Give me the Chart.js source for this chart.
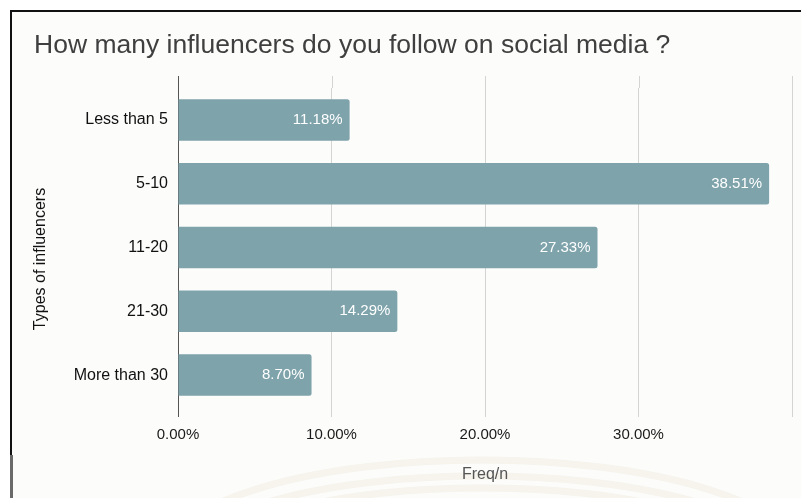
<!DOCTYPE html>
<html>
<head>
<meta charset="utf-8">
<script src="https://cdn.jsdelivr.net/npm/chart.js@4.4.1/dist/chart.umd.min.js"></script>
<style>
  html, body { margin: 0; padding: 0; background: #fff; }
  #wrap { position: relative; width: 801px; height: 498px; overflow: hidden; }
  #frame {
    position: absolute; left: 10px; top: 10px; right: -10px; bottom: -10px;
    border-top: 2.5px solid #111; border-left: 2.5px solid #111;
    background: #fcfcfb;
  }
  #frameLow {
    position: absolute; left: 10px; top: 455px; width: 2.5px; bottom: 0;
    background: #6a6a6a;
  }
  #chart { position: absolute; left: 0; top: 0; }
</style>
</head>
<body>
<div id="wrap">
  <div id="frame"></div>
  <div id="frameLow"></div>
  <canvas id="chart" width="801" height="498"></canvas>
</div>
<script>
const FONT = '"Liberation Sans", Arial, Helvetica, sans-serif';

const groups = ['Less than 5', '5-10', '11-20', '21-30', 'More than 30'];
const shares = [11.18, 38.51, 27.33, 14.29, 8.70];
const xTicks = [0, 10, 20, 30, 40];

const chartTitle = 'How many influencers do you follow on social media ?';
const yTitle = 'Types of influencers';
const xTitle = 'Freq/n';

Chart.defaults.font.family = FONT;

// faint seal in the background, behind everything
const backdrop = {
    id: 'backdrop',
    beforeDraw(chart) {
        const ctx = chart.ctx;
        ctx.save();
        ctx.strokeStyle = 'rgba(228, 218, 192, 0.25)';
        ctx.lineWidth = 7;
        [[320, 100], [296, 84], [270, 72]].forEach(r => {
            ctx.beginPath();
            ctx.ellipse(482, 560, r[0], r[1], 0, 0, Math.PI * 2);
            ctx.stroke();
        });
        ctx.restore();
    }
};

// gridlines run a little above the plot area
const gridTop = {
    id: 'gridTop',
    beforeDatasetsDraw(chart) {
        const {ctx, chartArea, scales} = chart;
        ctx.save();
        ctx.lineWidth = 1;
        xTicks.forEach(v => {
            const x = Math.round(scales.x.getPixelForValue(v)) + 0.5;
            ctx.strokeStyle = v === 0 ? '#555' : '#d4d4d4';
            ctx.beginPath();
            ctx.moveTo(x, chartArea.top - 12);
            ctx.lineTo(x, chartArea.top);
            ctx.stroke();
        });
        ctx.restore();
    }
};

// value labels inside the bar ends, plus the rotated y title
const barLabels = {
    id: 'barLabels',
    afterDatasetsDraw(chart) {
        const ctx = chart.ctx;
        const meta = chart.getDatasetMeta(0);
        ctx.save();
        ctx.font = '15px ' + FONT;
        ctx.fillStyle = '#ffffff';
        ctx.textAlign = 'right';
        ctx.textBaseline = 'middle';
        meta.data.forEach((bar, i) => {
            ctx.fillText(shares[i].toFixed(2) + '%', bar.x - 7, bar.y);
        });

        ctx.translate(40.5, 259);
        ctx.rotate(-Math.PI / 2);
        ctx.font = '16px ' + FONT;
        ctx.fillStyle = '#111';
        ctx.textAlign = 'center';
        ctx.fillText(yTitle, 0, 0);
        ctx.restore();
    }
};

const data = {
    labels: groups,
    datasets: [{
        data: shares,
        backgroundColor: '#7ea3ab',
        borderRadius: 2.5,
        borderSkipped: 'start',
        categoryPercentage: 1,
        barPercentage: 0.65
    }]
};

const config = {
    type: 'bar',
    data: data,
    options: {
        indexAxis: 'y',
        responsive: false,
        animation: false,
        events: [],
        layout: {
            padding: {left: 34, right: 9, top: 0, bottom: 0}
        },
        plugins: {
            legend: {display: false},
            tooltip: {enabled: false},
            title: {
                display: true,
                text: chartTitle,
                align: 'start',
                color: '#3f3f3f',
                font: {size: 26.5, weight: 'normal', family: FONT},
                padding: {top: 30, bottom: 26.2}
            }
        },
        scales: {
            x: {
                min: 0,
                max: 40,
                afterBuildTicks(scale) {
                    scale.ticks = xTicks.map(v => ({value: v}));
                },
                afterFit(scale) { scale.height = 91; },
                grid: {
                    color: ctx => ctx.tick && ctx.tick.value === 0 ? '#555' : '#d4d4d4',
                    lineWidth: 1,
                    drawTicks: true,
                    tickLength: 10
                },
                border: {display: false},
                ticks: {
                    padding: 9,
                    color: '#1a1a1a',
                    font: {size: 15},
                    callback: v => v === 40 ? '' : v.toFixed(2) + '%'
                },
                title: {
                    display: true,
                    text: xTitle,
                    color: '#555',
                    font: {size: 16},
                    padding: {top: 0, bottom: 14}
                }
            },
            y: {
                afterFit(scale) { scale.width = 144; },
                grid: {display: false, drawTicks: false},
                border: {display: false},
                ticks: {
                    padding: 10,
                    color: '#111',
                    font: {size: 16}
                }
            }
        }
    },
    plugins: [backdrop, gridTop, barLabels]
};

const influencersChart = new Chart(document.getElementById('chart'), config);
</script>
</body>
</html>
